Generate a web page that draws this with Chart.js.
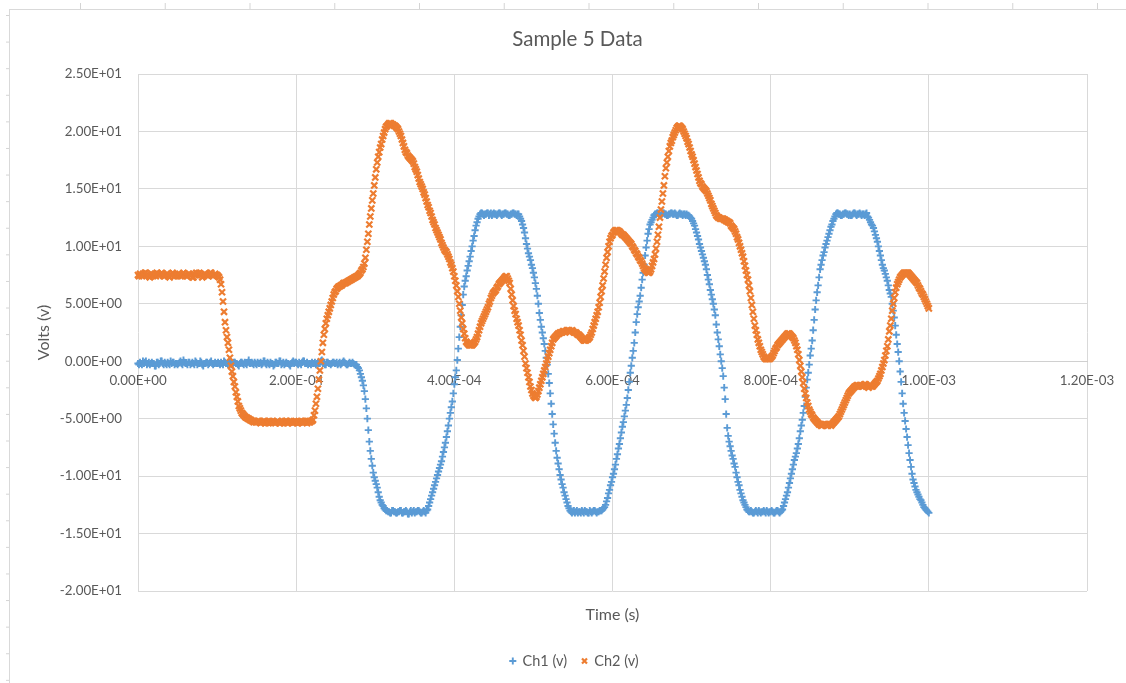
<!DOCTYPE html>
<html>
<head>
<meta charset="utf-8">
<title>Sample 5 Data</title>
<script src="https://cdn.jsdelivr.net/npm/chart.js@4.4.0/dist/chart.umd.min.js"></script>
<style>
  html, body { margin: 0; padding: 0; background: #fff; }
  body { width: 1126px; height: 683px; overflow: hidden; position: relative; }
  /* worksheet cell borders peeking out around the chart object */
  #cols { position: absolute; left: 0; top: 3px; width: 1126px; height: 6px;
          background-image: linear-gradient(to right, #d4d4d4 1px, transparent 1px);
          background-size: 84.75px 100%; background-position: 80px 0; }
  #rows { position: absolute; left: 6px; top: 0; width: 3px; height: 683px;
          background-image: linear-gradient(to bottom, #d4d4d4 1px, transparent 1px);
          background-size: 100% 26.6px; background-position: 0 15px; }
  #frame { position: absolute; left: 9px; top: 9px; width: 1140px; height: 700px;
           background: #fff; border-left: 1px solid #d9d9d9; border-top: 1px solid #d9d9d9; }
  #chart { position: absolute; left: 0; top: 0; }
</style>
</head>
<body>
<div id="cols"></div>
<div id="rows"></div>
<div id="frame"></div>
<canvas id="chart" width="1126" height="683"></canvas>
<script>
// Oscilloscope capture, one value every sample period starting at sampleStart (seconds)
const sampleStart = 0;
const samplePeriod = 1.25e-6;

// Channel 1 (volts), 40 samples per row = 50 us
const ch1Volts = [
  -0.2,-0.3,-0.1,-0.2,-0.3,0.0,-0.2,-0.1,0.0,-0.3,-0.2,-0.1,-0.3,-0.2,-0.1,-0.2,-0.2,-0.4,-0.4,-0.1,-0.1,-0.3,-0.2,0.0,0.0,-0.2,-0.3,-0.1,-0.2,-0.3,-0.1,-0.2,-0.3,0.0,-0.2,-0.1,-0.1,-0.3,-0.2,-0.2,
  -0.3,-0.2,-0.1,0.0,-0.2,-0.3,0.1,-0.1,-0.2,-0.2,-0.3,-0.1,-0.1,-0.3,-0.2,-0.1,-0.2,-0.3,0.0,-0.1,-0.3,-0.2,-0.2,0.0,-0.1,-0.3,-0.4,-0.2,-0.2,-0.1,-0.1,-0.3,-0.2,-0.1,0.0,-0.2,-0.3,-0.2,-0.1,-0.2,
  -0.2,-0.1,-0.2,-0.3,-0.1,-0.2,-0.3,0.0,-0.1,-0.2,-0.2,-0.3,0.0,-0.1,-0.2,-0.3,-0.3,-0.1,-0.1,-0.2,-0.2,-0.3,-0.4,-0.2,-0.1,-0.1,-0.2,-0.3,-0.1,-0.2,-0.3,-0.1,0.1,-0.2,-0.2,-0.1,-0.2,-0.3,-0.1,-0.2,
  -0.3,-0.1,-0.2,-0.2,-0.1,-0.3,-0.2,0.0,0.0,-0.2,-0.3,-0.1,-0.2,-0.3,-0.1,-0.2,-0.2,-0.4,-0.3,-0.1,-0.1,-0.2,-0.2,0.0,0.0,-0.3,-0.2,-0.1,-0.3,-0.2,-0.1,-0.2,-0.2,-0.3,-0.4,-0.2,-0.1,0.0,-0.2,-0.1,
  -0.1,-0.2,-0.3,-0.1,-0.2,-0.3,-0.1,0.0,0.0,-0.2,-0.2,-0.1,-0.3,-0.2,-0.2,-0.3,-0.1,-0.2,-0.2,-0.1,-0.3,-0.2,-0.1,-0.2,-0.2,0.0,0.1,-0.2,-0.2,-0.3,-0.3,-0.1,-0.1,-0.2,-0.2,-0.3,-0.2,-0.1,-0.1,-0.2,
  -0.2,-0.1,-0.3,-0.2,-0.1,-0.3,-0.2,-0.1,0.0,-0.1,-0.2,-0.3,-0.3,-0.2,-0.1,-0.2,-0.2,-0.1,-0.2,-0.3,-0.3,-0.3,-0.5,-0.6,-0.8,-1.1,-1.4,-1.7,-2.1,-2.6,-3.3,-4.1,-5.0,-6.0,-7.0,-7.8,-8.5,-9.1,-9.7,-10.1,
  -10.4,-10.7,-11.0,-11.4,-11.8,-12.1,-12.3,-12.5,-12.6,-12.8,-12.9,-13.0,-13.0,-13.1,-13.1,-13.2,-13.2,-13.0,-13.0,-13.1,-13.1,-13.2,-13.2,-13.1,-13.1,-13.0,-13.0,-13.2,-13.2,-13.1,-13.1,-13.0,-13.1,-13.3,-13.3,-13.1,-13.0,-13.2,-13.1,-13.0,
  -13.2,-13.1,-13.1,-13.0,-13.0,-13.1,-13.2,-13.2,-13.1,-13.0,-13.1,-13.2,-13.0,-12.9,-12.6,-12.3,-12.0,-11.7,-11.4,-11.1,-10.8,-10.5,-10.2,-9.9,-9.6,-9.3,-9.0,-8.7,-8.3,-7.9,-7.5,-7.1,-6.6,-6.1,-5.6,-5.0,-4.5,-4.0,-3.5,-2.8,
  -2.0,-1.4,-0.8,0.1,1.1,2.1,3.0,4.0,4.9,5.8,6.5,7.0,7.4,7.9,8.3,8.7,9.1,9.6,10.0,10.5,10.9,11.4,11.8,12.1,12.4,12.6,12.8,12.9,12.9,12.8,12.7,12.8,12.8,12.9,12.9,12.7,12.8,12.9,12.7,12.8,
  12.9,12.8,12.8,12.7,12.8,12.9,12.9,12.8,12.7,12.8,12.8,12.9,12.9,12.8,12.8,12.7,12.7,12.8,12.8,12.9,12.9,12.8,12.8,12.7,12.8,12.8,12.6,12.4,12.2,11.9,11.6,11.2,10.7,10.2,9.8,9.4,9.1,8.8,8.4,8.1,
  7.7,7.3,6.8,6.3,5.7,5.0,4.2,3.6,3.0,2.5,2.0,1.5,0.9,0.3,-0.3,-1.1,-1.9,-2.8,-3.7,-4.6,-5.5,-6.3,-7.1,-7.8,-8.4,-8.9,-9.4,-9.9,-10.3,-10.7,-11.0,-11.4,-11.7,-12.0,-12.3,-12.6,-12.8,-13.0,-13.1,-13.2,
  -13.1,-13.0,-13.2,-13.1,-13.0,-13.2,-13.1,-13.1,-13.2,-13.0,-13.1,-13.2,-13.0,-13.1,-13.1,-13.2,-13.2,-13.0,-13.1,-13.2,-13.1,-13.0,-13.0,-13.1,-13.2,-13.1,-13.1,-13.0,-13.0,-13.0,-12.9,-12.8,-12.7,-12.5,-12.2,-11.9,-11.5,-11.2,-10.8,-10.5,
  -10.1,-9.8,-9.4,-9.0,-8.5,-8.1,-7.6,-7.2,-6.7,-6.2,-5.7,-5.3,-4.8,-4.3,-3.8,-3.2,-2.5,-1.8,-1.0,-0.4,0.3,0.9,1.6,2.5,3.4,4.1,4.7,5.2,5.7,6.4,7.1,7.7,8.4,9.2,9.9,10.5,11.1,11.5,11.9,12.1,
  12.3,12.5,12.7,12.8,12.8,12.9,12.9,12.8,12.7,12.7,12.8,12.9,12.9,12.8,12.8,12.7,12.7,12.8,12.8,12.9,12.9,12.8,12.8,12.9,12.8,12.7,12.7,12.8,12.9,12.8,12.8,12.7,12.8,12.8,12.7,12.8,12.7,12.7,12.6,12.5,
  12.4,12.2,12.0,11.8,11.5,11.2,10.9,10.6,10.2,9.9,9.6,9.3,9.0,8.7,8.4,8.0,7.5,7.1,6.7,6.2,5.8,5.4,5.0,4.5,4.0,3.2,2.5,1.9,1.3,0.6,0.0,-0.6,-1.3,-2.3,-3.3,-4.6,-5.8,-6.5,-7.0,-7.4,
  -7.8,-8.2,-8.5,-8.9,-9.2,-9.7,-10.1,-10.5,-10.8,-11.2,-11.5,-11.8,-12.1,-12.3,-12.5,-12.7,-12.9,-13.0,-13.1,-13.1,-13.0,-13.1,-13.2,-13.2,-13.1,-13.0,-13.1,-13.2,-13.0,-13.1,-13.2,-13.1,-13.1,-13.0,-13.1,-13.2,-13.0,-13.1,-13.2,-13.1,
  -13.1,-13.0,-13.1,-13.2,-13.2,-13.1,-13.0,-13.0,-13.1,-13.2,-13.1,-13.0,-12.9,-12.6,-12.3,-12.0,-11.7,-11.4,-11.0,-10.6,-10.2,-9.8,-9.4,-9.0,-8.6,-8.3,-8.0,-7.6,-7.2,-6.7,-6.1,-5.6,-5.1,-4.5,-3.9,-3.1,-2.3,-1.6,-1.0,-0.3,
  0.5,1.1,1.8,2.7,3.6,4.5,5.3,6.0,6.6,7.3,8.0,8.4,8.8,9.2,9.5,9.9,10.2,10.5,10.8,11.1,11.4,11.7,11.9,12.2,12.4,12.6,12.8,12.9,12.9,12.8,12.8,12.7,12.7,12.8,12.8,12.9,12.9,12.8,12.8,12.7,
  12.8,12.7,12.7,12.8,12.9,12.9,12.8,12.7,12.8,12.8,12.9,12.8,12.7,12.8,12.8,12.7,12.8,12.9,12.6,12.5,12.3,12.1,11.9,11.8,11.6,11.3,11.0,10.7,10.4,10.0,9.6,9.2,8.8,8.4,8.1,7.9,7.6,7.3,7.0,6.6,
  6.2,5.9,5.6,5.0,4.4,3.8,3.1,2.3,1.5,0.8,0.0,-0.9,-1.8,-2.8,-3.7,-4.5,-5.2,-5.9,-6.6,-7.3,-8.0,-8.6,-9.2,-9.8,-10.3,-10.6,-10.9,-11.2,-11.4,-11.6,-11.8,-12.0,-12.1,-12.3,-12.5,-12.7,-12.8,-12.9,-13.0,-13.1,
  -13.2
];

// Channel 2 (volts), 40 samples per row = 50 us
const ch2Volts = [
  7.5,7.4,7.6,7.5,7.4,7.6,7.5,7.7,7.7,7.5,7.5,7.4,7.3,7.5,7.6,7.4,7.5,7.6,7.4,7.7,7.6,7.5,7.5,7.6,7.7,7.5,7.4,7.4,7.5,7.6,7.6,7.4,7.3,7.5,7.5,7.7,7.6,7.4,7.5,7.5,
  7.4,7.5,7.6,7.4,7.5,7.6,7.7,7.5,7.5,7.4,7.4,7.6,7.6,7.5,7.5,7.3,7.3,7.5,7.5,7.7,7.6,7.6,7.7,7.5,7.5,7.3,7.4,7.6,7.6,7.5,7.5,7.4,7.5,7.7,7.7,7.5,7.4,7.5,7.6,7.5,
  7.5,7.4,7.3,7.1,6.7,6.0,5.2,4.3,3.4,2.7,2.1,1.6,1.0,0.3,-0.4,-0.9,-1.3,-1.8,-2.2,-2.7,-3.1,-3.5,-3.9,-4.1,-4.3,-4.5,-4.6,-4.7,-4.8,-4.9,-4.9,-5.0,-5.0,-5.1,-5.1,-5.2,-5.2,-5.3,-5.2,-5.3,
  -5.3,-5.2,-5.2,-5.3,-5.4,-5.3,-5.3,-5.2,-5.2,-5.4,-5.3,-5.3,-5.4,-5.2,-5.3,-5.3,-5.2,-5.3,-5.3,-5.4,-5.3,-5.2,-5.3,-5.4,-5.4,-5.3,-5.2,-5.3,-5.3,-5.2,-5.2,-5.4,-5.4,-5.3,-5.3,-5.2,-5.3,-5.3,-5.2,-5.3,
  -5.3,-5.4,-5.4,-5.3,-5.3,-5.2,-5.2,-5.3,-5.3,-5.2,-5.3,-5.4,-5.2,-5.3,-5.3,-5.2,-5.2,-5.1,-4.7,-4.3,-3.7,-3.1,-2.4,-1.6,-0.8,0.0,0.8,1.6,2.3,2.8,3.3,3.7,4.0,4.3,4.6,4.9,5.2,5.5,5.8,6.0,
  6.1,6.3,6.4,6.5,6.5,6.6,6.6,6.7,6.8,6.8,6.8,6.9,6.9,7.0,7.0,7.1,7.1,7.2,7.2,7.3,7.3,7.4,7.4,7.5,7.6,7.7,7.9,8.0,8.2,8.5,9.0,9.7,10.4,11.1,11.9,12.6,13.3,14.0,14.6,15.3,
  16.0,16.7,17.3,17.8,18.2,18.6,18.9,19.3,19.6,19.9,20.2,20.4,20.5,20.6,20.7,20.7,20.7,20.6,20.6,20.5,20.5,20.4,20.3,20.2,20.0,19.8,19.6,19.3,19.0,18.7,18.4,18.2,18.1,17.9,17.8,17.7,17.6,17.5,17.4,17.2,
  16.9,16.7,16.5,16.2,15.9,15.6,15.4,15.2,15.0,14.7,14.5,14.2,13.9,13.6,13.4,13.1,12.9,12.6,12.3,12.1,11.9,11.6,11.4,11.2,11.0,10.8,10.6,10.3,10.1,9.9,9.7,9.6,9.5,9.3,9.1,8.9,8.6,8.4,8.1,7.8,
  7.4,7.0,6.6,6.1,5.6,5.0,4.4,3.8,3.3,2.8,2.4,2.0,1.7,1.6,1.5,1.4,1.4,1.4,1.4,1.5,1.6,1.7,1.9,2.1,2.4,2.7,3.0,3.3,3.5,3.7,3.9,4.1,4.3,4.5,4.7,5.0,5.2,5.5,5.7,5.9,
  6.0,6.1,6.2,6.4,6.5,6.7,6.8,6.9,7.0,7.1,7.2,7.3,7.4,7.4,7.2,7.0,6.8,6.3,5.8,5.3,4.8,4.4,4.1,3.7,3.4,3.1,2.7,2.3,1.8,1.4,0.9,0.4,-0.2,-0.6,-1.0,-1.4,-1.8,-2.2,-2.5,-2.8,
  -3.0,-3.1,-3.2,-3.1,-2.9,-2.6,-2.3,-2.0,-1.7,-1.4,-1.1,-0.8,-0.5,-0.2,0.1,0.4,0.7,1.0,1.3,1.6,1.9,2.0,2.1,2.2,2.3,2.4,2.4,2.5,2.5,2.5,2.6,2.6,2.5,2.6,2.7,2.7,2.7,2.6,2.6,2.7,
  2.6,2.5,2.5,2.5,2.4,2.3,2.3,2.2,2.1,2.0,1.9,1.8,1.8,1.8,1.9,1.9,2.0,2.1,2.3,2.5,2.8,3.1,3.4,3.7,4.0,4.3,4.7,5.1,5.6,6.1,6.6,7.2,7.8,8.4,9.0,9.5,10.0,10.4,10.7,10.9,
  11.0,11.2,11.3,11.4,11.4,11.4,11.3,11.3,11.2,11.1,11.0,11.0,10.9,10.8,10.7,10.6,10.5,10.4,10.3,10.2,10.0,9.9,9.7,9.6,9.4,9.3,9.1,9.0,8.8,8.7,8.5,8.3,8.1,8.0,7.9,7.8,7.7,7.7,7.8,8.0,
  8.3,8.6,8.9,9.3,9.8,10.4,11.0,11.7,12.5,13.2,13.9,14.6,15.3,16.1,16.8,17.3,17.8,18.3,18.7,19.0,19.2,19.5,19.7,19.9,20.1,20.3,20.4,20.5,20.5,20.4,20.3,20.2,20.0,19.8,19.6,19.4,19.1,18.9,18.6,18.3,
  18.0,17.8,17.5,17.2,16.9,16.6,16.3,16.0,15.7,15.5,15.4,15.2,15.1,15.0,14.9,14.8,14.6,14.4,14.2,14.0,13.7,13.5,13.3,13.1,12.9,12.7,12.6,12.5,12.5,12.4,12.4,12.4,12.4,12.3,12.3,12.2,12.2,12.1,12.1,12.0,
  11.8,11.7,11.6,11.5,11.3,11.1,10.8,10.6,10.3,10.0,9.7,9.4,9.1,8.7,8.3,7.9,7.5,7.1,6.6,6.1,5.5,4.9,4.3,3.7,3.1,2.7,2.3,1.9,1.6,1.3,1.0,0.8,0.6,0.4,0.3,0.2,0.2,0.2,0.2,0.2,
  0.3,0.4,0.5,0.7,0.9,1.1,1.2,1.4,1.5,1.6,1.7,1.8,1.9,2.0,2.1,2.2,2.3,2.4,2.4,2.4,2.3,2.2,2.1,2.0,1.8,1.6,1.3,1.0,0.6,0.1,-0.4,-0.9,-1.4,-1.9,-2.4,-2.8,-3.2,-3.6,-3.9,-4.2,
  -4.4,-4.6,-4.7,-4.9,-5.0,-5.1,-5.2,-5.3,-5.4,-5.5,-5.5,-5.6,-5.6,-5.5,-5.5,-5.5,-5.5,-5.6,-5.6,-5.5,-5.5,-5.6,-5.5,-5.4,-5.3,-5.2,-5.1,-5.0,-4.9,-4.8,-4.6,-4.4,-4.2,-4.0,-3.8,-3.6,-3.4,-3.2,-3.0,-2.8,
  -2.7,-2.6,-2.5,-2.4,-2.3,-2.2,-2.2,-2.1,-2.1,-2.2,-2.1,-2.1,-2.2,-2.2,-2.1,-2.0,-2.0,-2.1,-2.2,-2.3,-2.2,-2.1,-2.2,-2.2,-2.1,-2.0,-1.9,-1.8,-1.7,-1.5,-1.3,-1.1,-0.8,-0.5,-0.2,0.1,0.5,0.9,1.3,1.9,
  2.6,3.1,3.7,4.4,5.0,5.5,6.0,6.4,6.7,6.9,7.1,7.3,7.4,7.5,7.6,7.7,7.7,7.7,7.7,7.7,7.6,7.5,7.4,7.3,7.2,7.1,7.0,6.9,6.8,6.6,6.4,6.3,6.1,5.9,5.8,5.6,5.4,5.2,5.0,4.8,
  4.6
];

const seriesNames = ['Ch1 (v)', 'Ch2 (v)'];
const timeTicks = [0, 2e-4, 4e-4, 6e-4, 8e-4, 1e-3, 1.2e-3];
const voltTicks = [-20, -15, -10, -5, 0, 5, 10, 15, 20, 25];

const TEXT = '#595959';
const GRID = '#d9d9d9';
Chart.defaults.font.family = 'Lato, Carlito, "Liberation Sans", sans-serif';
Chart.defaults.color = TEXT;

// Spreadsheet style scientific labels: 2.50E+01, 4.00E-04
function sci(v) {
  const parts = Number(v).toExponential(2).split('e');
  const exp = parseInt(parts[1], 10);
  return parts[0] + 'E' + (exp < 0 ? '-' : '+') + String(Math.abs(exp)).padStart(2, '0');
}

function toPoints(values) {
  return values.map((v, i) => ({ x: sampleStart + i * samplePeriod, y: v }));
}

// Title and legend are centred on the whole chart object, not the canvas
const blockShift = { id: 'blockShift',
  afterLayout(chart) {
    const t = chart.titleBlock, l = chart.legend;
    if (t) { t.left += 34; t.right += 34; }
    if (l) { l.left += 31; l.right += 31; }
  }
};

new Chart(document.getElementById('chart'), {
  type: 'scatter',
  data: {
    datasets: [
      { label: seriesNames[0], data: toPoints(ch1Volts), showLine: false, clip: false,
        pointStyle: 'cross', pointRadius: 3.6, pointBorderWidth: 1.9, borderWidth: 1.9,
        borderColor: '#5B9BD5', backgroundColor: '#5B9BD5', order: 1 },
      { label: seriesNames[1], data: toPoints(ch2Volts), showLine: false, clip: false,
        pointStyle: 'crossRot', pointRadius: 4.3, pointBorderWidth: 2.2, borderWidth: 2.2,
        borderColor: '#ED7D31', backgroundColor: '#ED7D31', order: 0 }
    ]
  },
  options: {
    responsive: false,
    animation: false,
    events: [],
    layout: { padding: { left: 0, right: 39, top: 0, bottom: 4.75 } },
    scales: {
      x: {
        type: 'linear', position: { y: 0 }, min: 0, max: 1.2e-3,
        afterBuildTicks: s => { s.ticks = timeTicks.map(value => ({ value })); },
        ticks: { callback: sci, color: TEXT, font: { size: 13.33 }, padding: 11, maxRotation: 0, autoSkip: false },
        grid: { color: GRID, lineWidth: 1, drawTicks: false },
        border: { color: '#d0d0d0', width: 1 }
      },
      xTitle: {
        type: 'linear', axis: 'x', position: 'bottom', display: true,
        ticks: { display: false }, grid: { display: false }, border: { display: false },
        title: { display: true, text: 'Time (s)', color: TEXT, font: { size: 16 }, padding: { top: 6.4, bottom: 14.15 } }
      },
      y: {
        type: 'linear', min: -20, max: 25,
        afterBuildTicks: s => { s.ticks = voltTicks.map(value => ({ value })); },
        afterFit: s => { s.width = 138; },
        ticks: { callback: sci, color: TEXT, font: { size: 13.33 }, padding: 16 },
        grid: { color: GRID, lineWidth: 1, drawTicks: false },
        border: { display: false },
        title: { display: true, text: 'Volts (v)', color: TEXT, font: { size: 16 }, padding: { top: 34.4, bottom: 0 } }
      }
    },
    plugins: {
      title: { display: true, text: 'Sample 5 Data', color: TEXT,
               font: { size: 20.5, weight: 'normal' }, padding: { top: 26.7, bottom: 22.7 } },
      legend: { position: 'bottom',
        labels: { usePointStyle: true, boxWidth: 5, boxHeight: 5, padding: 15, color: TEXT,
                  font: { size: 14.5 }, sort: (a, b) => a.datasetIndex - b.datasetIndex } },
      tooltip: { enabled: false }
    }
  },
  plugins: [blockShift]
});
</script>
</body>
</html>
